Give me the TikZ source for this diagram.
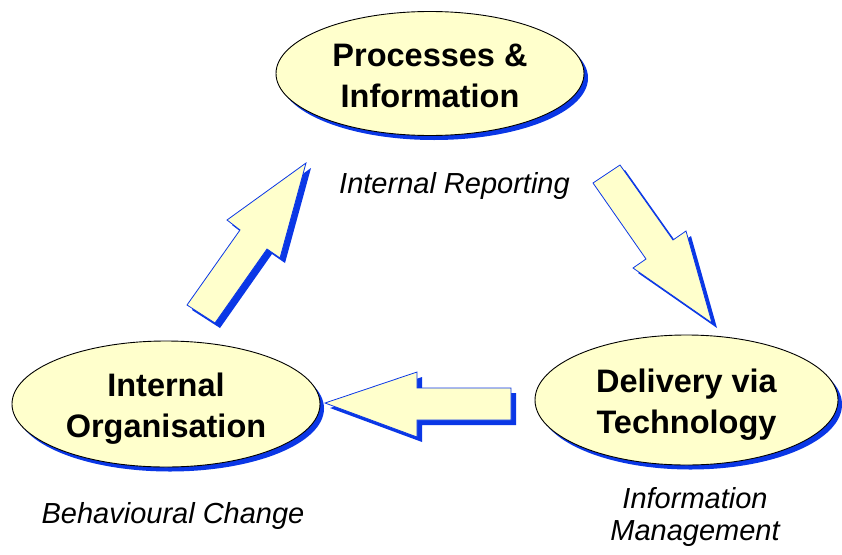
\documentclass[tikz,border=0pt]{standalone}
\usepackage{fontspec}
\setmainfont{Liberation Sans}
\usetikzlibrary{shapes.geometric,shadows}
\definecolor{shblue}{RGB}{10,55,230}
\definecolor{paleyel}{RGB}{255,255,204}
\tikzset{
  bubble/.style={ellipse, draw=black, line width=0.9pt, fill=paleyel, inner sep=0pt,
    align=center, font=\fontsize{32.5}{41}\selectfont\bfseries,
    general shadow={shadow xshift=4pt, shadow yshift=-4.5pt, fill=shblue}},
  caption/.style={font=\fontsize{29}{32}\selectfont\itshape, align=center, inner sep=0pt},
  blockarrow/.style={draw=shblue, line width=0.8pt, fill=paleyel, line join=miter},
  arrowshadow/.style={fill=shblue, draw=none}
}
\begin{document}
\begin{tikzpicture}[x=1pt,y=-1pt]
\useasboundingbox (0,0) rectangle (842,554);
% ellipses
\node[bubble, minimum width=308pt, minimum height=124pt] (proc) at (430,73.5) {\rule{0pt}{28pt}Processes \&\\Information};
\node[bubble, minimum width=308pt, minimum height=126pt] (org) at (166,404) {\rule{0pt}{32pt}Internal\\Organisation};
\node[bubble, minimum width=303pt, minimum height=130pt] (tech) at (686.5,400) {\rule{0pt}{32pt}Delivery via\\Technology};
% captions
\node[caption, anchor=base] (rep) at (454.5,193) {Internal Reporting};
\node[caption, anchor=base] (beh) at (173,523) {Behavioural Change};
\node[caption, anchor=base] (mgmt) at (695,540) {Information\\Management};
% arrow: Internal Organisation -> Processes & Information
\begin{scope}[shift={(5,5)}]
\fill[arrowshadow] (187,305) -- (215,323) -- (267,249) -- (280,258) -- (306,163) -- (227,220) -- (240,230) -- cycle;
\end{scope}
\draw[blockarrow] (187,305) -- (215,323) -- (267,249) -- (280,258) -- (306,163) -- (227,220) -- (240,230) -- cycle;
% arrow: Processes & Information -> Delivery via Technology
\begin{scope}[shift={(5,5)}]
\fill[arrowshadow] (620,165) -- (673,240) -- (686,231) -- (712,323) -- (633,268) -- (646,259) -- (593,183) -- cycle;
\end{scope}
\draw[blockarrow] (620,165) -- (673,240) -- (686,231) -- (712,323) -- (633,268) -- (646,259) -- (593,183) -- cycle;
% arrow: Delivery via Technology -> Internal Organisation
\begin{scope}[shift={(5,5)}]
\fill[arrowshadow] (325,403) -- (417,372) -- (417,388) -- (511,388) -- (511,420) -- (417,420) -- (417,437) -- cycle;
\end{scope}
\draw[blockarrow] (325,403) -- (417,372) -- (417,388) -- (511,388) -- (511,420) -- (417,420) -- (417,437) -- cycle;
\end{tikzpicture}
\end{document}
